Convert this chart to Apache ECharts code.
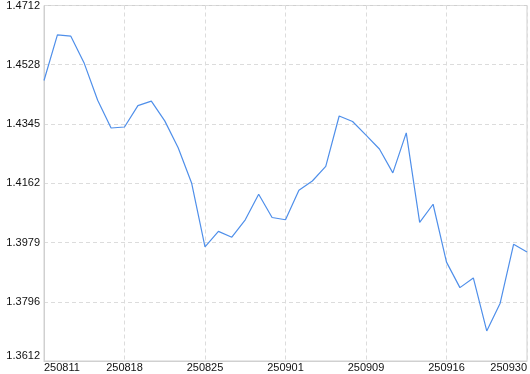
<!DOCTYPE html>
<html>
<head>
<meta charset="utf-8">
<script src="https://cdn.jsdelivr.net/npm/echarts@6/dist/echarts.min.js"></script>
<style>
html,body{margin:0;padding:0;background:#fff;}
#c{width:530px;height:374px;}
</style>
</head>
<body>
<div id="c"></div>
<script>
const categories = [
  '250811','250812','250813','250814','250815','250816','250818',
  '250819','250820','250821','250822','250823','250825',
  '250826','250827','250828','250829','250830','250901',
  '250902','250903','250904','250905','250908','250909',
  '250910','250911','250912','250913','250915','250916',
  '250917','250918','250919','250922','250923','250930'
];
const values = [
  1.4480, 1.4621, 1.4617, 1.4533, 1.4419, 1.4333, 1.4336,
  1.4402, 1.4416, 1.4355, 1.4272, 1.4163, 1.3965,
  1.4013, 1.3995, 1.4049, 1.4128, 1.4056, 1.4049,
  1.4140, 1.4169, 1.4214, 1.4370, 1.4353, 1.4311,
  1.4268, 1.4194, 1.4318, 1.4041, 1.4097, 1.3918,
  1.3839, 1.3869, 1.3705, 1.3791, 1.3973, 1.3949
];
const yMin = 1.3612, yMax = 1.4712;
const yTicks = [1.3612, 1.3796, 1.3979, 1.4162, 1.4345, 1.4528, 1.4712];

const chart = echarts.init(document.getElementById('c'), null, {renderer: 'canvas'});
const font = {fontFamily: 'Liberation Sans', fontSize: 11, color: '#111'};
chart.setOption({
  animation: false,
  backgroundColor: '#fff',
  grid: {left: 44, right: 1, top: 1, bottom: 13, show: true, borderColor: '#d0d0d0', borderWidth: 1, containLabel: false},
  xAxis: {
    type: 'category',
    data: categories,
    boundaryGap: false,
    axisLine: {lineStyle: {color: '#d0d0d0'}},
    axisTick: {show: false},
    axisLabel: Object.assign({}, font, {
      interval: 5, margin: 1,
      alignMinLabel: 'left', alignMaxLabel: 'right'
    }),
    splitLine: {show: true, lineStyle: {color: '#dcdcdc', type: [4, 3]}}
  },
  yAxis: {
    type: 'value',
    min: yMin, max: yMax,
    interval: (yMax - yMin) / 6,
    axisLine: {show: true, lineStyle: {color: '#d0d0d0'}},
    axisTick: {show: false},
    axisLabel: Object.assign({}, font, {
      margin: 4,
      formatter: function (v) {
        let best = yTicks[0];
        for (const t of yTicks) if (Math.abs(t - v) < Math.abs(best - v)) best = t;
        return best.toFixed(4);
      },
      verticalAlignMinLabel: 'bottom', verticalAlignMaxLabel: 'top'
    }),
    splitLine: {show: true, lineStyle: {color: '#dcdcdc', type: [4, 3]}}
  },
  series: [{
    type: 'line',
    data: values,
    showSymbol: false,
    symbol: 'none',
    lineStyle: {color: '#4f8fea', width: 1.2},
    itemStyle: {color: '#4f8fea'}
  }]
});
</script>
</body>
</html>
